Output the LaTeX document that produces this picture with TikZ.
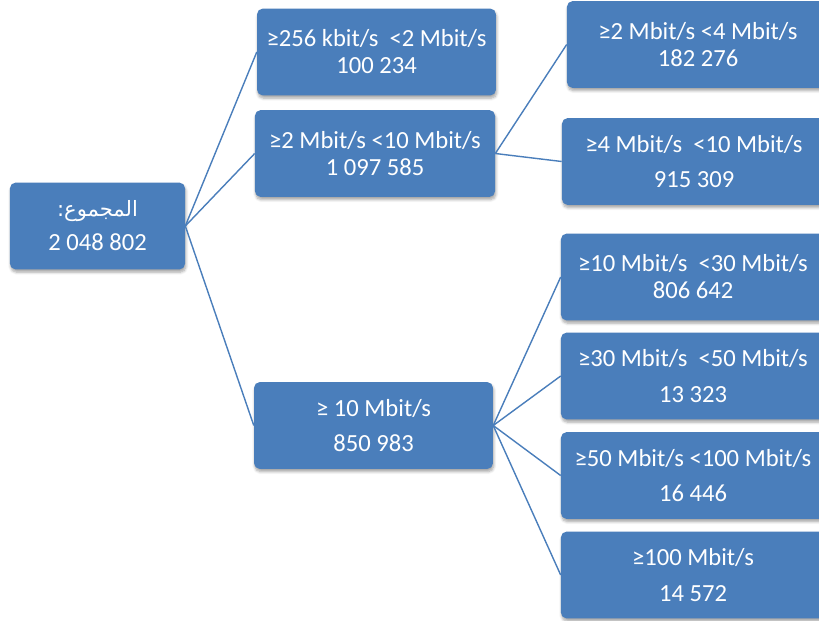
\documentclass[tikz,border=0pt]{standalone}
\usepackage{fontspec}
\setmainfont{Carlito}
\newfontfamily\arabicfont[Script=Arabic]{DejaVu Sans}
\TeXXeTstate=1
\usetikzlibrary{shadows.blur}
\definecolor{boxblue}{HTML}{4A7EBB}

\begin{document}
\begin{tikzpicture}[x=0.025cm,y=-0.025cm,
    tier/.style={fill=boxblue,rounded corners=4pt,text=white,align=center,inner sep=0pt,
      minimum height=2.17cm,font=\fontsize{17.5}{19.2}\selectfont,
      blur shadow={shadow xshift=0.6pt,shadow yshift=-2pt,shadow blur steps=6,shadow opacity=35}},
    link/.style={draw=boxblue,line width=1pt}]
  \useasboundingbox (0,0) rectangle (819,620);
  \clip (0,0) rectangle (819,620);
  \node[tier,minimum width=4.375cm] (total) at (97.5,226)
    {{\fontsize{15}{19.2}\selectfont\arabicfont\beginR المجموع:\endR}\\[5pt]2 048 802};
  \node[tier,minimum width=5.97cm] (low) at (376.5,52) {≥256 kbit/s\ \ <2 Mbit/s\\100 234};
  \node[tier,minimum width=6cm] (mid) at (375,153.5) {≥2 Mbit/s <10 Mbit/s\\1 097 585};
  \node[tier,minimum width=5.97cm] (high) at (373.5,425.5) {≥ 10 Mbit/s\\[6.2pt]850 983};
  \node[tier,minimum width=6.55cm] (midA) at (698,44.5) {≥2 Mbit/s <4 Mbit/s\\182 276};
  \node[tier,minimum width=6.6cm] (midB) at (694,161.5) {≥4 Mbit/s\ \ <10 Mbit/s\\[6.2pt]915 309};
  \node[tier,minimum width=6.6cm] (highA) at (693,277) {≥10 Mbit/s\ \ <30 Mbit/s\\806 642};
  \node[tier,minimum width=6.6cm] (highB) at (693,376) {≥30 Mbit/s\ \ <50 Mbit/s\\[6.2pt]13 323};
  \node[tier,minimum width=6.6cm] (highC) at (693,475.5) {≥50 Mbit/s <100 Mbit/s\\[6.2pt]16 446};
  \node[tier,minimum width=6.6cm] (highD) at (693,575) {≥100 Mbit/s\\[6.2pt]14 572};
  \draw[link] (total.east) -- (low.west);
  \draw[link] (total.east) -- (mid.west);
  \draw[link] (total.east) -- (high.west);
  \draw[link] (mid.east) -- (midA.west);
  \draw[link] (mid.east) -- (midB.west);
  \draw[link] (high.east) -- (highA.west);
  \draw[link] (high.east) -- (highB.west);
  \draw[link] (high.east) -- (highC.west);
  \draw[link] (high.east) -- (highD.west);
\end{tikzpicture}
\end{document}
